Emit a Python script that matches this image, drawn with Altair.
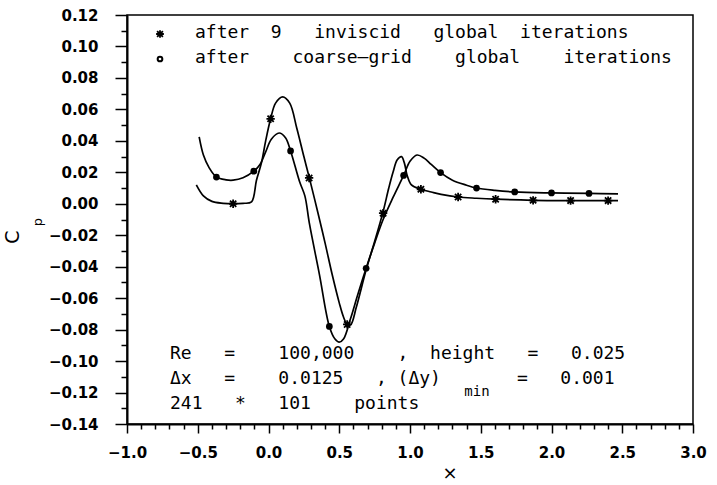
import altair as alt
import pandas as pd

# ---------------- data ----------------
# continuous curve: after 9 inviscid global iterations
inv_curve_x = [-0.51, -0.46, -0.40, -0.32, -0.25, -0.18, -0.12, -0.085, -0.05, -0.02, 0.015, 0.05,
               0.10, 0.15, 0.20, 0.25, 0.29, 0.35, 0.40, 0.45, 0.50, 0.53, 0.556, 0.58, 0.62, 0.69,
               0.75, 0.81, 0.85, 0.88, 0.91, 0.94, 0.96, 0.98, 1.01, 1.077, 1.15, 1.22, 1.34, 1.47,
               1.605, 1.87, 2.135, 2.40, 2.47]
inv_curve_y = [0.012, 0.005, 0.0015, 0.0003, 0.0, 0.0003, 0.0012, 0.015, 0.026, 0.040, 0.054, 0.064,
               0.068, 0.064, 0.048, 0.030, 0.016, -0.006, -0.025, -0.045, -0.063, -0.072, -0.0767, -0.077,
               -0.066, -0.042, -0.024, -0.005, 0.010, 0.020, 0.028, 0.030, 0.026, 0.018, 0.012, 0.0092,
               0.0075, 0.006, 0.0043, 0.0035, 0.0029, 0.0022, 0.0020, 0.0020, 0.0020]

# continuous curve: after coarse-grid global iterations
cg_curve_x = [-0.49, -0.46, -0.42, -0.368, -0.30, -0.25, -0.18, -0.104, -0.06, -0.02, 0.02, 0.075,
              0.12, 0.156, 0.22, 0.257, 0.29, 0.36, 0.43, 0.47, 0.50, 0.53, 0.58, 0.63, 0.69, 0.75,
              0.81, 0.88, 0.955, 1.00, 1.05, 1.10, 1.15, 1.216, 1.30, 1.40, 1.47, 1.60, 1.74, 2.0,
              2.265, 2.47]
cg_curve_y = [0.0425, 0.031, 0.023, 0.017, 0.0152, 0.015, 0.0165, 0.0207, 0.025, 0.033, 0.041, 0.045,
              0.042, 0.0336, 0.014, 0.005, -0.013, -0.045, -0.078, -0.086, -0.088, -0.086, -0.073,
              -0.058, -0.041, -0.025, -0.010, 0.004, 0.018, 0.027, 0.031, 0.029, 0.025, 0.0198, 0.015,
              0.0118, 0.010, 0.0085, 0.0075, 0.0069, 0.0066, 0.0063]

# plotted symbols
star_x = [-0.25, 0.015, 0.287, 0.556, 0.81, 1.077, 1.34, 1.605, 1.87, 2.135, 2.40]
star_y = [0.0, 0.054, 0.0164, -0.0767, -0.006, 0.0092, 0.0043, 0.0029, 0.0022, 0.0020, 0.0020]
circ_x = [-0.368, -0.104, 0.156, 0.43, 0.69, 0.955, 1.216, 1.47, 1.74, 2.0, 2.265]
circ_y = [0.017, 0.0207, 0.0336, -0.078, -0.041, 0.018, 0.0198, 0.010, 0.0075, 0.0069, 0.0066]

# axis ticks
x_major = [-1.0, -0.5, 0.0, 0.5, 1.0, 1.5, 2.0, 2.5, 3.0]
x_minor = [round(-1.0 + 0.1 * i, 1) for i in range(41)]
y_major = [-0.14, -0.12, -0.10, -0.08, -0.06, -0.04, -0.02, 0.0, 0.02, 0.04, 0.06, 0.08, 0.10, 0.12]
y_minor = [round(-0.14 + 0.01 * i, 2) for i in range(27)]

# texts
legend_1 = "after  9   inviscid   global  iterations"
legend_2 = "after    coarse\u2014grid    global    iterations"
note_1 = "Re   =    100,000    ,  height   =   0.025"
note_2a = "\u0394x   =    0.0125   , (\u0394y)"
note_2_sub = "min"
note_2b = "=   0.001"
note_3 = "241   *   101    points"
x_title = "\u00d7"
y_title_main = "C"
y_title_sub = "p"

# ---------------- build ----------------
curves = pd.concat([
    pd.DataFrame({"x": inv_curve_x, "y": inv_curve_y, "series": "inviscid"}),
    pd.DataFrame({"x": cg_curve_x, "y": cg_curve_y, "series": "coarse-grid"}),
])
stars = pd.DataFrame({"x": star_x, "y": star_y})
circs = pd.DataFrame({"x": circ_x, "y": circ_y})

XS = alt.Scale(domain=[-1.0, 3.0], nice=False, zero=False)
YS = alt.Scale(domain=[-0.14, 0.12], nice=False, zero=False)

MONO = "DejaVu Sans Mono"
LABF = "DejaVu Sans"

X_MAJ = "abs(datum.value*2 - round(datum.value*2)) < 1e-6"
Y_MAJ = "abs(datum.value*50 - round(datum.value*50)) < 1e-6"

x_axis = alt.Axis(
    values=x_minor, title=None, grid=False,
    labelExpr=f"{X_MAJ} ? format(datum.value, '.1f') : ''",
    tickSize={"condition": {"test": X_MAJ, "value": 9}, "value": 5},
    labelOverlap=False, labelFlush=False, labelPadding=12, labelBound=False,
    labelFont=LABF, labelFontSize=15, labelFontWeight="bold", labelColor="black",
    domainColor="black", domainWidth=2, tickColor="black", tickWidth=1.5,
)
y_axis = alt.Axis(
    values=y_minor, title=None, grid=False,
    labelExpr=f"{Y_MAJ} ? format(datum.value, '.2f') : ''",
    tickSize={"condition": {"test": Y_MAJ, "value": 12}, "value": 6},
    labelOverlap=False, labelFlush=False, labelPadding=17, labelBound=False,
    labelFont=LABF, labelFontSize=15, labelFontWeight="bold", labelColor="black",
    domainColor="black", domainWidth=2, tickColor="black", tickWidth=1.5,
)

X_ENC = alt.X("x:Q", scale=XS, axis=x_axis)
Y_ENC = alt.Y("y:Q", scale=YS, axis=y_axis)

lines = alt.Chart(curves).mark_line(
    color="black", strokeWidth=1.7, interpolate="catmull-rom"
).encode(x=X_ENC, y=Y_ENC, detail="series:N")

ASTER = "M-1,0L1,0M0,-1L0,1M-0.75,-0.75L0.75,0.75M-0.75,0.75L0.75,-0.75"

star_pts = alt.Chart(stars).mark_point(
    shape=ASTER, size=70, color="black", filled=False, strokeWidth=1.8, opacity=1
).encode(x=X_ENC, y=Y_ENC)

circ_pts = alt.Chart(circs).mark_circle(
    size=45, color="black", opacity=1
).encode(x=X_ENC, y=Y_ENC)

one = pd.DataFrame({"k": [0]})

leg_star = alt.Chart(one).mark_point(
    shape=ASTER, size=60, color="black", filled=False, strokeWidth=1.8, opacity=1
).encode(x=alt.value(33), y=alt.value(19))
leg_circ = alt.Chart(one).mark_point(
    shape="circle", size=22, color="black", filled=False, strokeWidth=2, opacity=1
).encode(x=alt.value(33), y=alt.value(44))


def txt(s, x, y, size=18, font=MONO, align="left", baseline="alphabetic", angle=0):
    kw = dict(text=s.replace(" ", "\u00a0"), font=font, fontSize=size, align=align,
              baseline=baseline, color="black")
    if angle:
        kw["angle"] = angle
    return alt.Chart(one).mark_text(**kw).encode(x=alt.value(x), y=alt.value(y))


texts = [
    txt(legend_1, 68, 23),
    txt(legend_2, 68, 48),
    txt(note_1, 43, 344),
    txt(note_2a, 43, 369),
    txt(note_2_sub, 350, 381, size=14, align="center"),
    txt(note_2b, 390, 369),
    txt(note_3, 43, 394),
    txt(x_title, 323, 459, size=18, font=LABF, align="center", baseline="middle"),
    txt(y_title_main, -114, 222, size=19, font=LABF, align="center", baseline="middle", angle=270),
    txt(y_title_sub, -89, 207, size=13, font=LABF, align="center", baseline="middle", angle=270),
]

chart = alt.layer(lines, star_pts, circ_pts, leg_star, leg_circ, *texts).properties(
    width=566, height=409,
    autosize=alt.AutoSizeParams(type="none"),
    padding={"left": 127, "top": 15, "right": 24, "bottom": 61},
    background="white",
).configure_view(stroke="black", strokeWidth=1.5)

chart.save("out.html", embed_options={"renderer": "svg", "actions": False})
